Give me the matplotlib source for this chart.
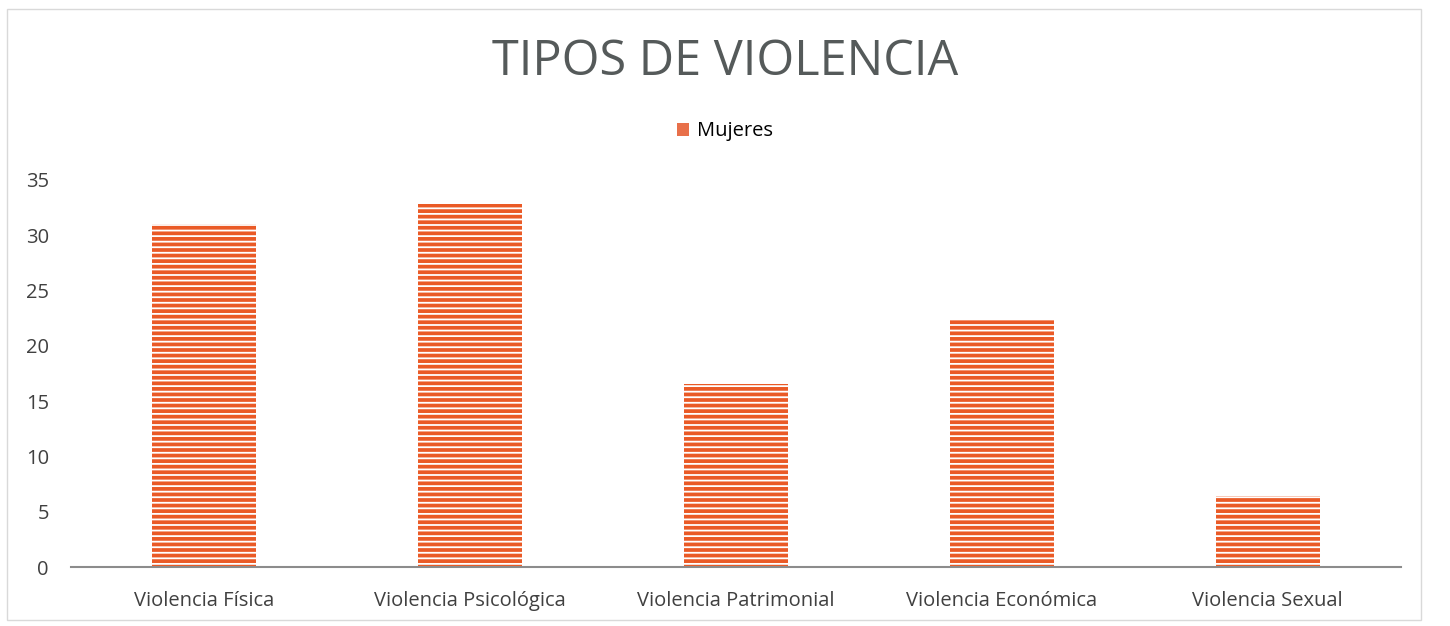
import matplotlib.pyplot as plt
from matplotlib.patches import Rectangle, Patch

# --- Daten ---
categorias = ["Violencia Física", "Violencia Psicológica", "Violencia Patrimonial",
              "Violencia Económica", "Violencia Sexual"]
mujeres = [31, 32.8, 16.5, 22.4, 6.4]
yticks = [0, 5, 10, 15, 20, 25, 30, 35]

plt.rcParams['font.family'] = ['Open Sans', 'DejaVu Sans']
plt.rcParams['hatch.linewidth'] = 1.3

naranja = '#EA5A26'

fig = plt.figure(figsize=(14.5, 6.26), dpi=100)
ax = fig.add_axes([0.049, 0.094, 0.917, 0.619])

x = range(len(categorias))
ax.bar(x, mujeres, width=0.39, color=naranja, edgecolor='white',
       linewidth=0, hatch='---')

ax.set_xlim(-0.5, len(categorias) - 0.5)
ax.set_ylim(0, 35)
ax.set_yticks(yticks)
ax.set_xticks(list(x))
ax.set_xticklabels(categorias)
ax.tick_params(axis='both', length=0, labelsize=14.5, colors='#404040')
ax.tick_params(axis='x', pad=17)
ax.tick_params(axis='y', pad=16)

for s in ['top', 'right', 'left']:
    ax.spines[s].set_visible(False)
ax.spines['bottom'].set_color('#8c8c8c')
ax.spines['bottom'].set_linewidth(1.5)

fig.text(0.5, 0.9, "TIPOS DE VIOLENCIA", ha='center', va='center',
         fontsize=35, fontweight='normal', color='#555a5a')

# Legende mit vollem Quadrat
handles = [Patch(facecolor='#E8704A', edgecolor='none', label='Mujeres')]
ax.legend(handles=handles, loc='center', bbox_to_anchor=(0.5, 0.79),
          bbox_transform=fig.transFigure, frameon=False, fontsize=14.5,
          handlelength=0.6, handleheight=0.6, handletextpad=0.4)

# Rahmen des Diagramms
fig.patches.append(Rectangle((0.005, 0.01), 0.975, 0.975, transform=fig.transFigure,
                             fill=False, edgecolor='#d9d9d9', linewidth=1))

fig.savefig('out.png', dpi=100)
